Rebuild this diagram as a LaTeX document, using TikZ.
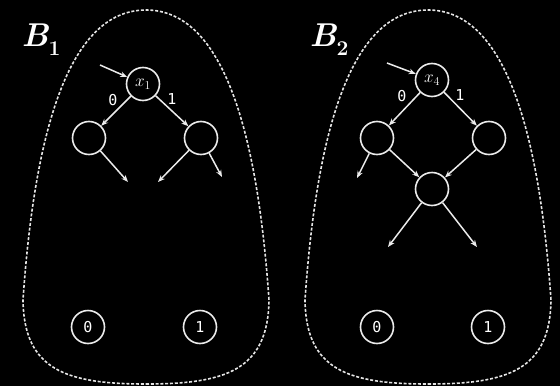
\documentclass[tikz,border=0pt]{standalone}
\usepackage{fontspec}
\newfontfamily\digitfont{DejaVu Sans Mono}
\usetikzlibrary{arrows.meta}
\begin{document}
\begin{tikzpicture}[x=1pt,y=-1pt,
  region/.style={draw=white!90!black, line width=1.6pt, dash pattern=on 3pt off 1.8pt},
  vnode/.style={circle, draw=white!92!black, line width=1.6pt, minimum size=33pt, inner sep=0pt, text=white},
  edge/.style={draw=white!92!black, line width=1.5pt, -{Stealth[length=7pt,width=5.5pt]}},
  elabel/.style={text=white, font=\digitfont\fontsize{15}{15}\selectfont, inner sep=0pt},
  tlabel/.style={text=white, font=\digitfont\fontsize{15}{15}\selectfont},
  vlabel/.style={font=\fontsize{18}{18}\selectfont},
  title/.style={text=white, inner sep=0pt}]
\fill[black] (0,0) rectangle (560,386);
\useasboundingbox (0,0) rectangle (560,386);

% the two dashed regions, same outline shifted
\foreach \cx in {146,428}{
  \begin{scope}[shift={(\cx,0)}]
    \draw[region] (0,384) .. controls (80,384) and (122,370) .. (123,300)
      .. controls (110,110) and (70,10) .. (0,10)
      .. controls (-70,10) and (-110,110) .. (-123,300)
      .. controls (-122,370) and (-80,384) .. (0,384) -- cycle;
  \end{scope}
}

% titles
\node[title] (t1) at (41,40) {\fontsize{33}{33}\selectfont\bfseries\itshape B\raisebox{-0.28em}{\fontsize{21}{21}\selectfont\upshape 1}};
\node[title] (t2) at (329,40) {\fontsize{33}{33}\selectfont\bfseries\itshape B\raisebox{-0.28em}{\fontsize{21}{21}\selectfont\upshape 2}};

% ---------- B1 ----------
\node[vnode, vlabel] (a0) at (143,84) {$x_1$};
\node[vnode] (a1) at (89,138) {};
\node[vnode] (a2) at (201,138) {};
\node[vnode, tlabel] (a3) at (88,327) {0};
\node[vnode, tlabel] (a4) at (200,327) {1};
\coordinate (ain) at (100,65);
\coordinate (aL) at (128,182);
\coordinate (aM) at (158,182);
\coordinate (aR) at (222,177);
\draw[edge] (ain) -- (a0);
\draw[edge] (a0) -- (a1);
\draw[edge] (a0) -- (a2);
\draw[edge] (a1) -- (aL);
\draw[edge] (a2) -- (aM);
\draw[edge] (a2) -- (aR);
\node[elabel] (a0l) at (113,100) {0};
\node[elabel] (a0r) at (172,99) {1};

% ---------- B2 ----------
\node[vnode, vlabel] (b0) at (432,80) {$x_4$};
\node[vnode] (b1) at (377,138) {};
\node[vnode] (b2) at (489,138) {};
\node[vnode] (b3) at (432,189) {};
\node[vnode, tlabel] (b4) at (377,327) {0};
\node[vnode, tlabel] (b5) at (488,327) {1};
\coordinate (bin) at (387,63);
\coordinate (bL) at (357,178);
\coordinate (bML) at (388,247);
\coordinate (bMR) at (477,247);
\draw[edge] (bin) -- (b0);
\draw[edge] (b0) -- (b1);
\draw[edge] (b0) -- (b2);
\draw[edge] (b1) -- (bL);
\draw[edge] (b1) -- (b3);
\draw[edge] (b2) -- (b3);
\draw[edge] (b3) -- (bML);
\draw[edge] (b3) -- (bMR);
\node[elabel] (b0l) at (402,96) {0};
\node[elabel] (b0r) at (460,95) {1};
\end{tikzpicture}
\end{document}
